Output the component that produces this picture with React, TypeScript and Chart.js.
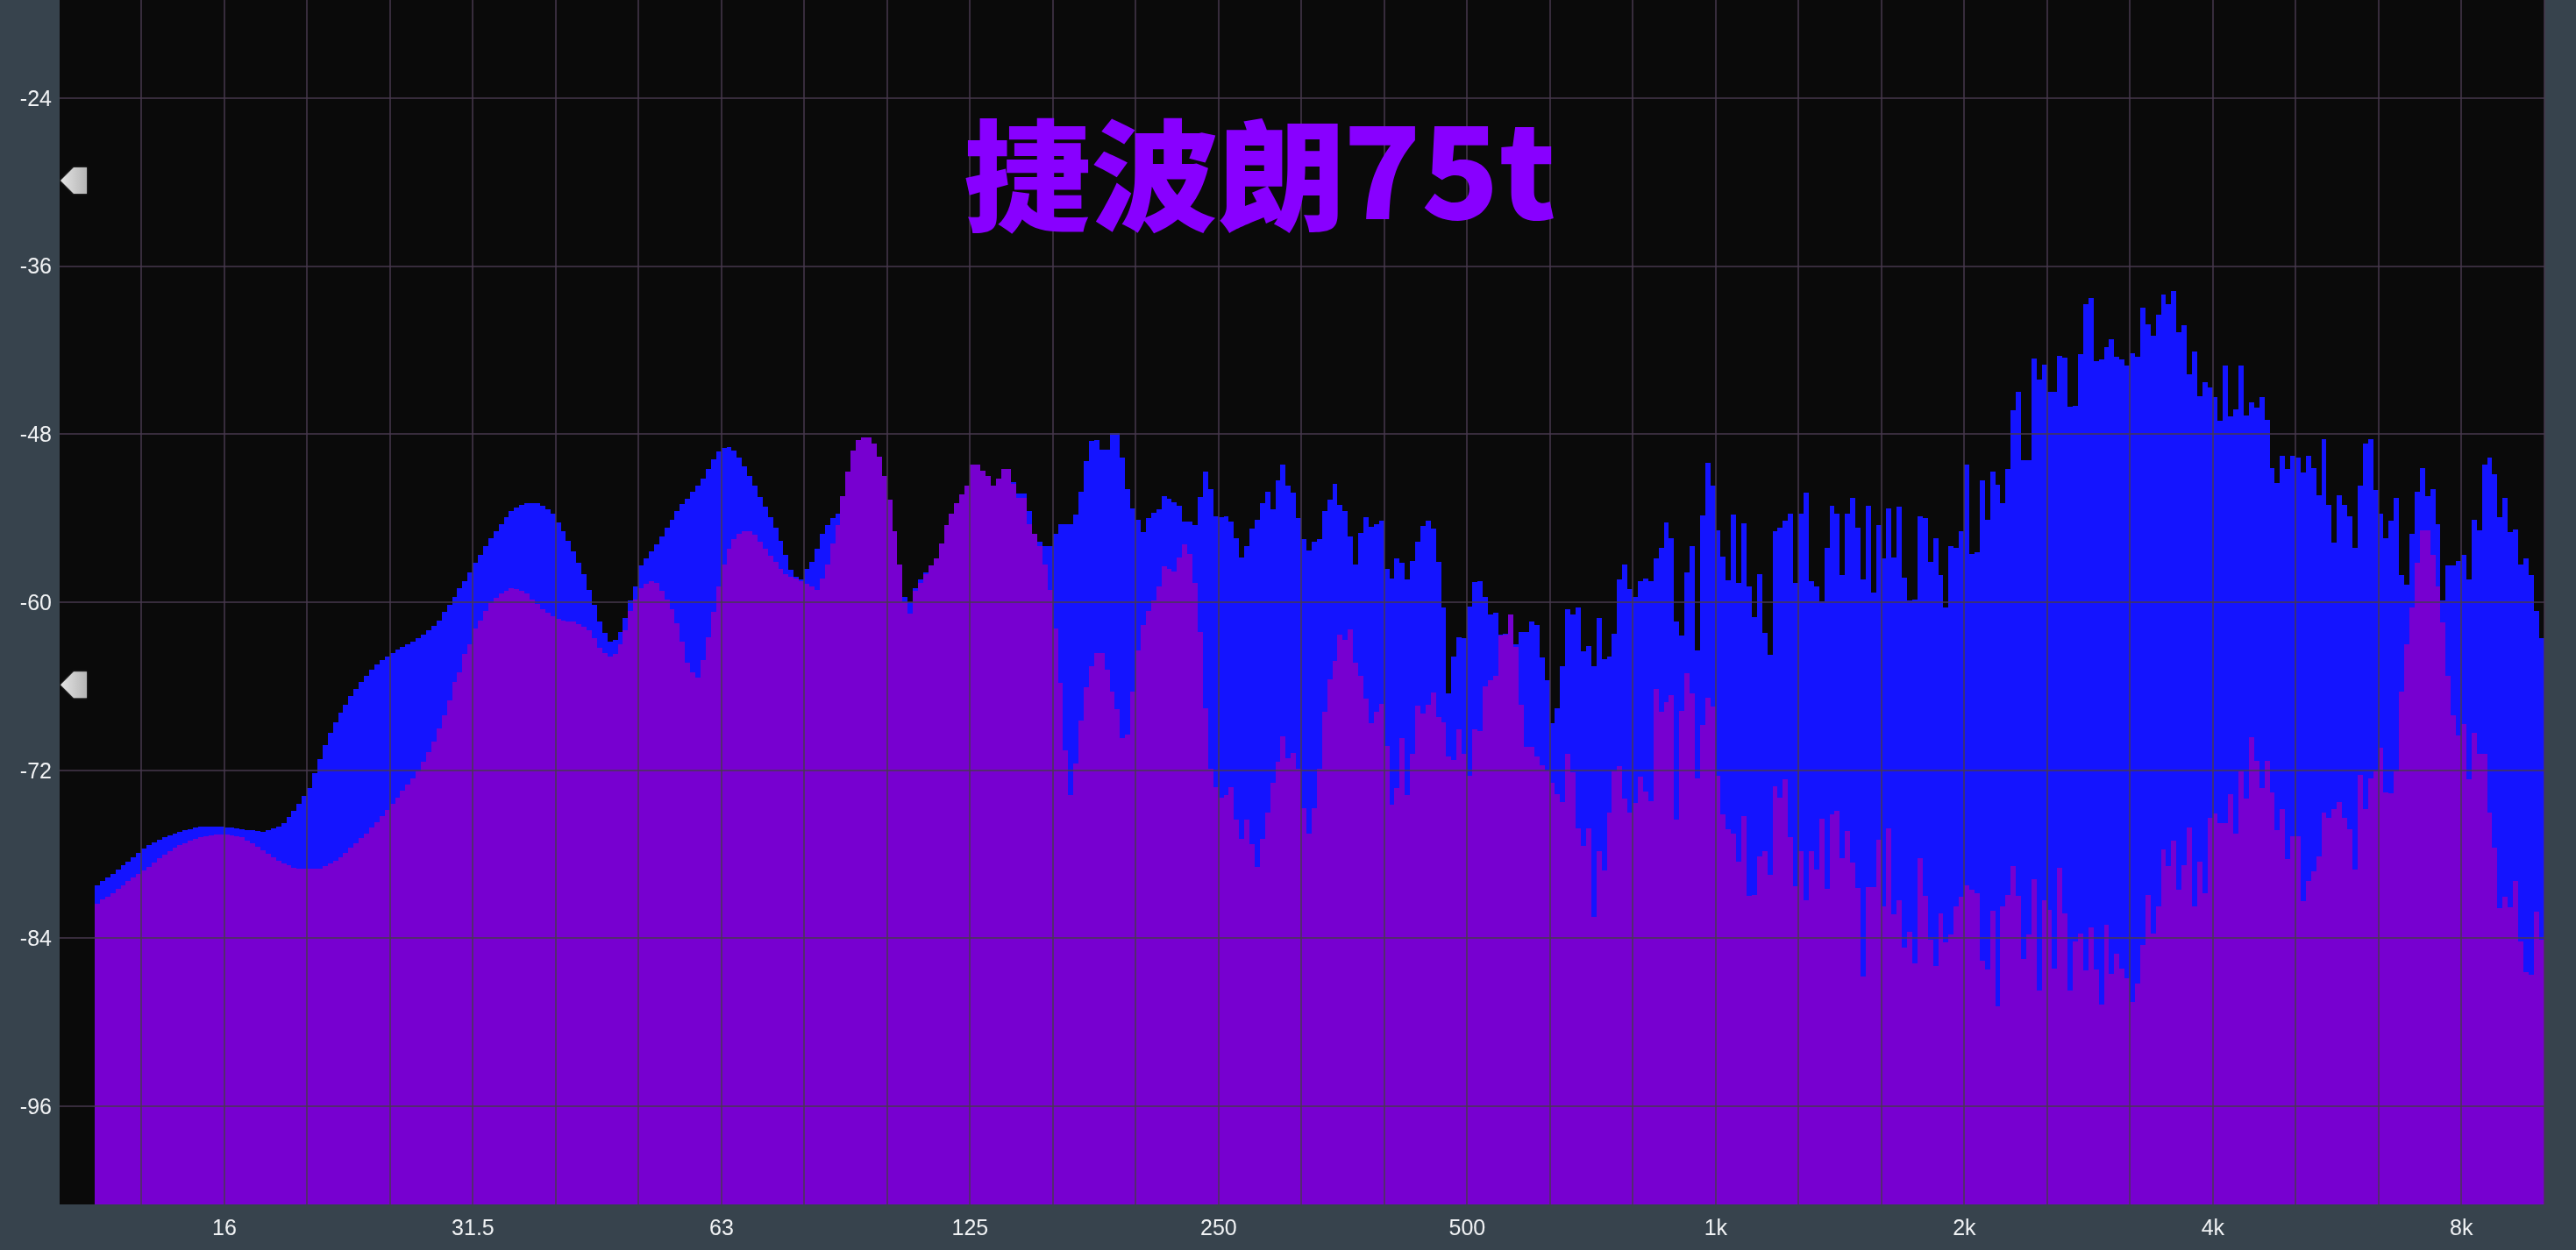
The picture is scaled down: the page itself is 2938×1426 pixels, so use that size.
import React, { useEffect, useRef } from "react";
import { Chart, registerables } from "chart.js";

Chart.register(...registerables);

const titleHan = "捷波朗";
const titleModel = "75t";
const yTicks = [-24, -36, -48, -60, -72, -84, -96];
const handleLevels = [-29.9, -65.9];
const gridHz = [12.7, 16, 20.16, 25.4, 32, 40.32, 50.8, 64, 80.63, 101.6, 128, 161.3, 203.2, 256, 322.5, 406.4, 512, 645.1, 812.7, 1024, 1290, 1625, 2048, 2580, 3251, 4096, 5161, 6502, 8192, 10321];
const gridLabels = ["", "16", "", "", "31.5", "", "", "63", "", "", "125", "", "", "250", "", "", "500", "", "", "1k", "", "", "2k", "", "", "4k", "", "", "8k", ""];

const seriesBlue = [
-80.2,-79.9,-79.65,-79.4,-79.1,-78.8,-78.5,-78.2,-77.9,-77.6,
-77.35,-77.15,-76.95,-76.8,-76.65,-76.5,-76.4,-76.3,-76.2,-76.1,
-76.05,-76.05,-76.05,-76.05,-76.05,-76.1,-76.1,-76.15,-76.2,-76.25,
-76.3,-76.35,-76.4,-76.3,-76.15,-76,-75.75,-75.35,-74.9,-74.4,
-73.85,-73.3,-72.2,-71.2,-70.2,-69.3,-68.55,-67.9,-67.3,-66.7,
-66.2,-65.7,-65.25,-64.8,-64.45,-64.1,-63.85,-63.6,-63.4,-63.2,
-63,-62.8,-62.55,-62.3,-62,-61.7,-61.3,-60.7,-60.2,-59.6,
-59,-58.5,-57.9,-57.2,-56.6,-56,-55.4,-54.9,-54.4,-53.9,
-53.5,-53.25,-53.05,-52.95,-52.9,-52.95,-53.1,-53.35,-53.7,-54.3,
-54.95,-55.6,-56.4,-57.2,-58,-59.1,-60.2,-61.4,-62.2,-62.8,
-62.7,-62.1,-61.1,-59.9,-58.9,-57.4,-56.9,-56.4,-55.9,-55.3,
-54.7,-54.1,-53.5,-53,-52.6,-52.1,-51.7,-51.2,-50.5,-49.8,
-49.25,-49,-48.95,-49.2,-49.7,-50.3,-51,-51.7,-52.5,-53.2,
-53.9,-54.7,-55.6,-56.6,-57.7,-58.2,-58.4,-57.6,-57.1,-56.2,
-55.1,-54.5,-54,-53.7,-52.4,-50.7,-49.2,-48.4,-48.25,-48.25,
-48.7,-49.6,-51,-52.7,-54.9,-57.3,-59.6,-60,-59,-58.4,
-57.9,-57.4,-56.9,-55.8,-54.5,-53.7,-52.9,-52.3,-51.7,-50.2,
-50.2,-50.6,-51,-51.7,-51.2,-50.5,-50.5,-51.4,-52.25,-52.25,
-53.5,-55.1,-55.65,-56,-56,-55.1,-54.4,-54.45,-54.45,-53.75,
-52.1,-49.9,-48.5,-48.4,-49.1,-49.1,-47.9,-47.9,-49.65,-51.95,
-53.3,-54.1,-55,-54,-53.6,-53.35,-52.4,-52.6,-52.85,-53.1,
-54.25,-54.25,-54.5,-52.5,-50.65,-51.95,-53.85,-53.9,-53.85,-54.25,
-55.4,-56.8,-56,-54.75,-54.1,-52.95,-52.1,-53.35,-51.3,-50.15,
-51.65,-52.2,-54,-55.5,-56.3,-55.65,-55.5,-53.5,-52.7,-51.55,
-53.05,-53.5,-55.3,-57.3,-55.05,-53.9,-54.6,-54.45,-54.2,-57.6,
-58.3,-56.85,-57.2,-58.4,-57.05,-55.7,-54.55,-54.15,-54.75,-57.1,
-60.4,-66.5,-63.9,-62.5,-62.55,-60.3,-58.55,-58.5,-59.65,-60.9,
-60.75,-62.3,-62.25,-60.85,-63,-62.15,-62.1,-61.4,-61.65,-63.95,
-65.6,-68.65,-67.55,-64.6,-60.5,-60.9,-60.4,-63.5,-63.1,-64.6,
-61.1,-64.05,-63.85,-62.25,-58.4,-57.3,-59.05,-59.65,-58.5,-58.3,
-58.5,-56.9,-56.1,-54.3,-55.4,-61.4,-62.4,-57.9,-56,-63.45,
-53.8,-50.05,-51.7,-54.85,-56.75,-58.45,-53.75,-58.6,-54.35,-58.85,
-61.05,-58,-62.2,-63.75,-54.9,-54.7,-54.15,-53.65,-58.6,-53.65,
-52.2,-58.5,-58.9,-59.95,-56.15,-53.1,-53.65,-58.05,-53.65,-52.55,
-54.65,-58.4,-53.1,-59.3,-54.5,-56.9,-53.3,-56.8,-53.15,-58.25,
-59.9,-59.8,-53.85,-54,-57.15,-55.4,-58.05,-60.4,-56,-56.15,
-54.9,-50.2,-56.55,-56.45,-51.3,-54.1,-50.65,-51.6,-52.95,-50.5,
-46.27,-44.95,-49.85,-49.85,-42.6,-44.1,-43.05,-45,-44.95,-42.4,
-42.55,-46.05,-45.95,-42.3,-38.7,-38.25,-42.8,-42.65,-41.8,-41.2,
-42.5,-42.65,-43.1,-42.2,-42.45,-39,-40.15,-40.95,-39.5,-38.05,
-38.7,-37.75,-40.7,-40.25,-43.7,-42.1,-45.3,-44.3,-44.65,-45.35,
-47.05,-43.1,-46.75,-46.2,-43.1,-46.65,-45.7,-46.1,-45.35,-46.95,
-50.4,-51.5,-49.55,-50.5,-49.55,-49.7,-50.75,-49.55,-50.45,-52.35,
-48.35,-53.05,-55.75,-52.35,-53.05,-53.85,-56.1,-51.7,-48.7,-48.35,
-52,-53.65,-55.45,-54.2,-52.55,-58.05,-58.75,-55.1,-52.1,-50.45,
-52.45,-51.95,-54.45,-59.85,-57.35,-57.35,-57.05,-56.65,-58.4,-54.1,
-54.85,-50.15,-49.7,-50.85,-53.9,-52.55,-55,-54.8,-57.3,-56.85,
-58.05,-60.65,-62.55,
];

const seriesPurple = [
-81.5,-81.2,-81,-80.75,-80.45,-80.2,-79.9,-79.65,-79.4,-79.15,
-78.9,-78.6,-78.3,-78.05,-77.8,-77.55,-77.35,-77.2,-77.05,-76.9,
-76.8,-76.7,-76.65,-76.6,-76.6,-76.6,-76.65,-76.7,-76.8,-77,
-77.2,-77.45,-77.7,-77.95,-78.2,-78.45,-78.65,-78.8,-78.95,-79.05,
-79.05,-79.05,-79.05,-79,-78.85,-78.65,-78.45,-78.2,-77.9,-77.55,
-77.2,-76.85,-76.5,-76.1,-75.7,-75.3,-74.85,-74.4,-73.95,-73.45,
-73,-72.55,-72.05,-71.4,-70.7,-69.95,-69,-68.1,-67,-65.7,
-65,-63.7,-63,-61.9,-61.3,-60.6,-60.05,-59.7,-59.35,-59.2,
-59,-59.05,-59.2,-59.4,-59.8,-60.15,-60.5,-60.75,-61,-61.2,
-61.3,-61.35,-61.4,-61.55,-61.75,-62,-62.55,-63.25,-63.6,-63.9,
-63.7,-63,-62,-60.6,-59.8,-59,-58.7,-58.5,-58.6,-59.2,
-59.8,-60.5,-61.5,-62.8,-64.3,-65,-65.4,-64.1,-62.5,-60.7,
-58.9,-57.3,-56.2,-55.5,-55.1,-54.95,-54.9,-55.2,-55.7,-56.2,
-56.7,-57.1,-57.6,-58,-58.2,-58.3,-58.5,-58.7,-58.9,-59.1,
-58.3,-57.3,-55.8,-54.5,-52.4,-50.7,-49.2,-48.4,-48.25,-48.25,
-48.7,-49.6,-51,-52.7,-54.9,-57.3,-60,-60.8,-59.2,-58.6,
-58,-57.4,-56.9,-55.8,-54.5,-53.7,-52.9,-52.3,-51.7,-50.2,
-50.2,-50.6,-51,-51.7,-51.2,-50.5,-50.5,-51.55,-52.55,-52.55,
-54.4,-55.1,-56,-57.3,-59.1,-61.9,-65.75,-70.6,-73.8,-71.5,
-68.45,-66.1,-64.6,-63.6,-63.6,-64.85,-66.4,-67.65,-69.7,-69.45,
-66.4,-63.45,-61.65,-60.65,-59.9,-58.85,-57.45,-57.6,-57.8,-56.8,
-55.9,-56.55,-58.6,-62.15,-67.55,-71.9,-73.2,-73.95,-73.8,-73.2,
-75.5,-76.9,-75.5,-77.25,-78.9,-76.9,-75,-72.9,-71.4,-69.6,
-71.15,-70.75,-71.9,-74.7,-76.5,-74.7,-71.9,-67.8,-65.5,-64.2,
-62.3,-62.7,-61.95,-64.35,-65.25,-66.9,-68.65,-67.8,-67.25,-70.25,
-74.45,-73.3,-69.7,-73.8,-70.85,-67.4,-67.95,-67.3,-66.45,-68.2,
-68.55,-71,-71.25,-69.1,-70.85,-72.4,-69.1,-69.2,-66,-65.6,
-65.25,-62.4,-62.3,-60.85,-63.2,-67.3,-70.3,-70.35,-71,-71.65,
-72,-72.9,-73.7,-74.3,-70.85,-72.15,-76.15,-77.4,-76.15,-82.45,
-77.8,-79.15,-75,-72.1,-71.7,-74.05,-75,-74.35,-72.45,-73.5,
-74.2,-66.2,-67.8,-67.15,-66.65,-75.55,-67.75,-65.1,-66.5,-72.55,
-68.75,-66.85,-67.45,-72.4,-75.15,-76.2,-76.55,-78.5,-75.3,-80.95,
-80.9,-78.15,-77.8,-79.45,-73.15,-73.95,-72.65,-76.75,-80.3,-77.8,
-81.25,-77.75,-79.1,-75.45,-80.45,-75.15,-74.9,-78.3,-76.35,-78.6,
-80.4,-86.7,-80.35,-80.35,-76.95,-81.7,-76.15,-82.3,-81.25,-84.65,
-83.55,-85.8,-78.3,-80.95,-84.1,-86,-82.25,-84.3,-83.7,-81.75,
-81.05,-80.2,-80.5,-80.75,-85.6,-86.2,-82.05,-88.85,-81.7,-80.9,
-78.85,-80.95,-85.5,-83.7,-79.8,-87.75,-81.3,-82,-86.15,-78.95,
-82.2,-87.75,-84.25,-83.65,-86.3,-83.2,-86.2,-88.7,-83.05,-86.55,
-85.1,-86.15,-86.85,-88.55,-87.25,-84.5,-80.9,-83.65,-81.7,-77.65,
-78.85,-77.05,-80.5,-78.75,-76.1,-81.75,-78.5,-80.8,-75.4,-75.1,
-75.75,-75.75,-73.7,-76.5,-72.05,-74.05,-69.65,-71.35,-73.25,-71.35,
-73.6,-76.25,-74.8,-78.35,-76.7,-76.7,-81.35,-79.9,-79.2,-78.15,
-75.05,-75.4,-74.8,-74.3,-75.4,-76.2,-79.1,-72.35,-74.8,-72.55,
-72.1,-70.4,-73.6,-73.65,-72.05,-66.4,-63,-60.35,-57.2,-54.85,
-54.85,-56.6,-58.9,-61.45,-65.25,-68.1,-69.5,-68.7,-72.65,-69.3,
-70.8,-70.8,-75.05,-77.55,-81.85,-81,-81.8,-79.9,-84.25,-86.4,
-86.6,-82.1,-84.1,
];

const yMin = -103;
const yMax = -17;
const xMinHz = 10.106;
const xMaxHz = 10326;
const firstBinHz = 11.225;
const binsPerOctave = 48;
const binHz = seriesBlue.map((_, i) => firstBinHz * Math.pow(2, i / binsPerOctave));

const PANEL = "#37434d";
const PLOT_BG = "#0a0a0a";
const BLUE = "#1414ff";
const PURPLE = "#7700d0";
const TITLE_PURPLE = "#8800ff";
const GRID = "rgba(72,56,78,0.74)";
const TEXT = "#f0f2f4";
const tickFont = { family: "'Liberation Sans', Arial, sans-serif", size: 25 };

const backdrop = {
  id: "backdrop",
  beforeDraw(chart: any) {
    const { ctx, width, height, chartArea: a } = chart;
    ctx.save();
    ctx.fillStyle = PANEL;
    ctx.fillRect(0, 0, width, height);
    ctx.fillStyle = PLOT_BG;
    ctx.fillRect(a.left, a.top, a.right - a.left, a.bottom - a.top);
    ctx.restore();
  },
};

// Snap each bar to whole device pixels so that neighbouring bars leave no antialiased seams.
const crispBars = {
  id: "crispBars",
  beforeDatasetsDraw(chart: any) {
    chart.getSortedVisibleDatasetMetas().forEach((meta: any) => {
      meta.data.forEach((el: any) => {
        const left = Math.round(el.x - el.width / 2);
        const right = Math.round(el.x + el.width / 2);
        el.x = (left + right) / 2;
        el.width = right - left;
        el.y = Math.round(el.y);
      });
    });
  },
};

const overlay = {
  id: "overlay",
  afterDraw(chart: any) {
    const { ctx, scales, chartArea: a } = chart;
    ctx.save();
    ctx.fillStyle = TITLE_PURPLE;
    ctx.textAlign = "left";
    ctx.textBaseline = "alphabetic";
    ctx.save();
    ctx.translate(1099, 253);
    ctx.scale(1.06, 1);
    ctx.font = "900 137px 'Noto Sans CJK SC', sans-serif";
    ctx.fillText(titleHan, 0, 0);
    ctx.restore();
    ctx.font = "900 146px 'Noto Sans CJK SC', sans-serif";
    ctx.fillText(titleModel, 1532, 250);
    for (const level of handleLevels) {
      const y = scales.y.getPixelForValue(level);
      const x0 = a.left + 1;
      const g = ctx.createLinearGradient(x0, 0, x0 + 31, 0);
      g.addColorStop(0, "#e4e4e4");
      g.addColorStop(1, "#b4b4b4");
      ctx.fillStyle = g;
      ctx.shadowColor = "rgba(200,200,200,0.5)";
      ctx.shadowBlur = 2;
      ctx.beginPath();
      ctx.moveTo(x0, y);
      ctx.lineTo(x0 + 15, y - 15);
      ctx.lineTo(x0 + 30, y - 15);
      ctx.lineTo(x0 + 30, y + 15);
      ctx.lineTo(x0 + 15, y + 15);
      ctx.closePath();
      ctx.fill();
    }
    ctx.restore();
  },
};

export default function App() {
  const ref = useRef<HTMLCanvasElement | null>(null);
  useEffect(() => {
    if (!ref.current) return;
    const chart = new Chart(ref.current, {
      type: "bar",
      data: {
        labels: binHz,
        datasets: [
          { label: "B", data: seriesPurple, backgroundColor: PURPLE, order: 1, base: yMin, grouped: false, barPercentage: 1, categoryPercentage: 1, inflateAmount: 0 },
          { label: "A", data: seriesBlue, backgroundColor: BLUE, order: 2, base: yMin, grouped: false, barPercentage: 1, categoryPercentage: 1, inflateAmount: 0 },
        ],
      } as any,
      options: {
        animation: false,
        responsive: false,
        devicePixelRatio: 1,
        layout: { padding: { left: 0, top: 0, right: 36, bottom: 0 } },
        plugins: { legend: { display: false }, title: { display: false }, tooltip: { enabled: false } },
        scales: {
          x: {
            type: "logarithmic",
            min: xMinHz,
            max: xMaxHz,
            offset: false,
            border: { display: false },
            grid: { offset: false, color: GRID, lineWidth: 2, drawTicks: false, z: 1 },
            ticks: {
              autoSkip: false,
              maxRotation: 0,
              minRotation: 0,
              padding: 13,
              color: TEXT,
              font: tickFont,
              callback: (_v: any, i: number) => gridLabels[i],
            },
            afterBuildTicks: (s: any) => {
              s.ticks = gridHz.map((value) => ({ value }));
            },
            afterFit: (s: any) => {
              s.height = 52;
              s.paddingLeft = 0;
              s.paddingRight = 0;
            },
          },
          y: {
            type: "linear",
            min: yMin,
            max: yMax,
            border: { display: false },
            grid: { color: GRID, lineWidth: 2, drawTicks: false, z: 1 },
            ticks: { padding: 9, color: TEXT, font: tickFont, labelOffset: 2 },
            afterBuildTicks: (s: any) => {
              s.ticks = yTicks.map((value) => ({ value }));
            },
            afterFit: (s: any) => {
              s.width = 68;
              s.paddingTop = 0;
              s.paddingBottom = 0;
            },
          },
        },
      } as any,
      plugins: [backdrop, crispBars, overlay],
    });
    return () => chart.destroy();
  }, []);
  return (
    <div style={{ position: "fixed", left: 0, top: 0, width: 2938, height: 1426, overflow: "hidden", background: PANEL }}>
      <canvas ref={ref} width={2938} height={1426} style={{ display: "block", width: 2938, height: 1426 }} />
    </div>
  );
}
